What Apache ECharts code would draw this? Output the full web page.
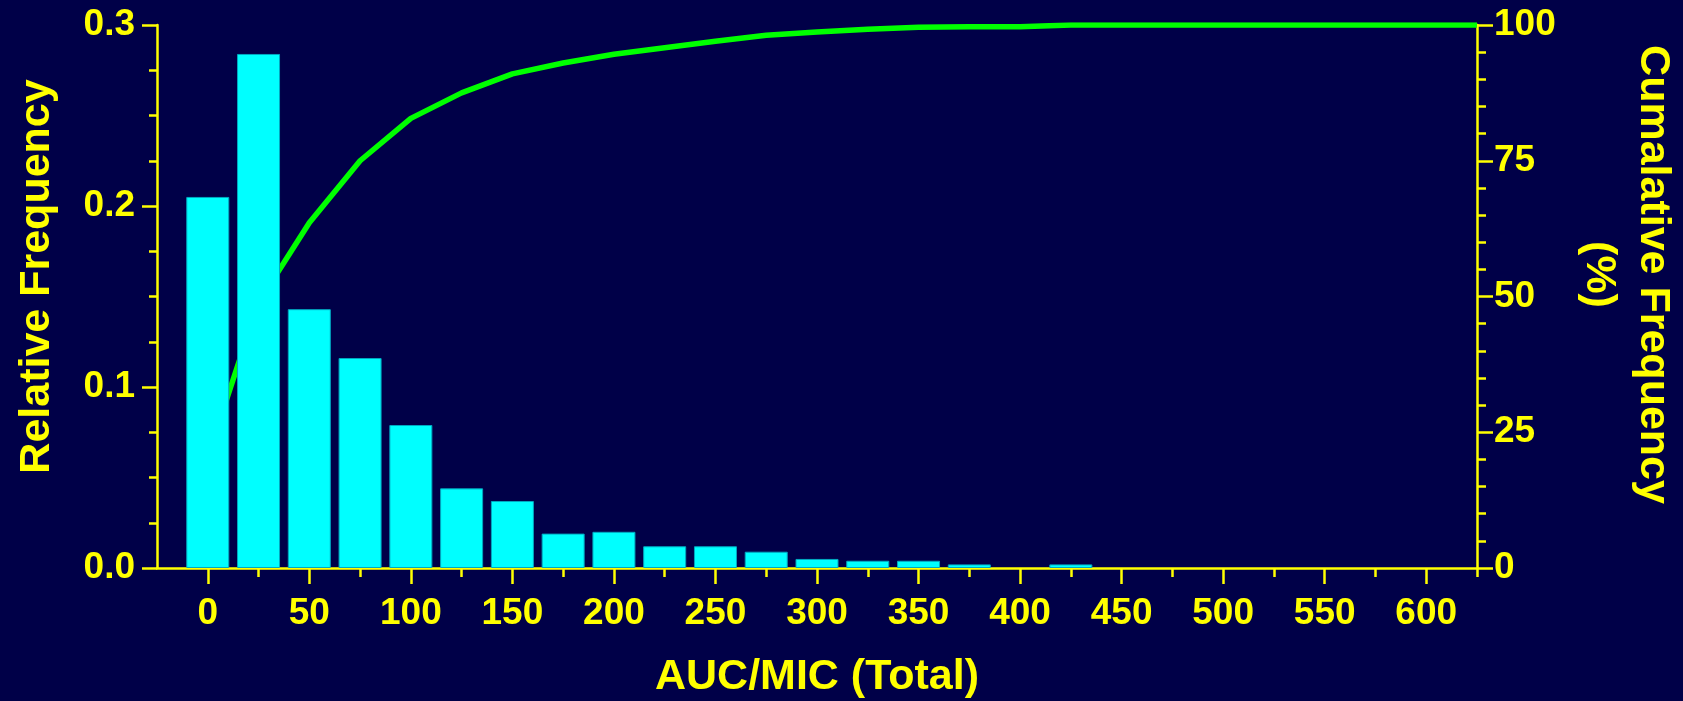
<!DOCTYPE html>
<html>
<head>
<meta charset="utf-8">
<script src="https://cdn.jsdelivr.net/npm/echarts@6/dist/echarts.min.js"></script>
<style>
  html, body { margin: 0; padding: 0; background: #000048; }
  #chart { width: 1683px; height: 701px; }
</style>
</head>
<body>
<div id="chart"></div>
<script>
// bin centres (AUC/MIC) and relative frequency of each bin
var binCenters = [0, 25, 50, 75, 100, 125, 150, 175, 200, 225, 250, 275, 300, 325, 350, 375, 400, 425];
var relFreq = [0.205, 0.284, 0.143, 0.116, 0.079, 0.044, 0.037, 0.019, 0.020, 0.012, 0.012, 0.009, 0.005, 0.004, 0.004, 0.002, 0, 0.002];

// cumulative frequency curve (%)
var cumX = [0, 25, 50, 75, 100, 125, 150, 175, 200, 225, 250, 275, 300, 325, 350, 375, 400, 425, 450, 475, 500, 525, 550, 575, 600, 625];
var cumPct = [20.5, 48.9, 63.6, 75.0, 82.8, 87.5, 91.0, 93.0, 94.6, 95.8, 97.0, 98.1, 98.7, 99.2, 99.6, 99.7, 99.7, 100, 100, 100, 100, 100, 100, 100, 100, 100];

// x-axis ticks
var xMajorTicks = [0, 50, 100, 150, 200, 250, 300, 350, 400, 450, 500, 550, 600];
var xMinorTicks = [25, 75, 125, 175, 225, 275, 325, 375, 425, 475, 525, 575, 625];

var yellow = '#ffff00';
var font = '"Liberation Sans", Arial, sans-serif';

var lineStyle = { color: yellow, width: 2.5 };
var labelStyle = { color: yellow, fontFamily: font, fontWeight: 'bold', fontSize: 37 };
var nameStyle = { color: yellow, fontFamily: font, fontWeight: 'bold', fontSize: 43 };

// empty bins are left out of the drawing
var barData = binCenters.map(function(x, i) { return [x, relFreq[i] || null]; });
var cumData = cumX.map(function(x, i) { return [x, cumPct[i]]; });

var chart = echarts.init(document.getElementById('chart'));
chart.setOption({
    backgroundColor: '#000048',
    animation: false,
    grid: { left: 157, right: 206, top: 25, bottom: 133, containLabel: false, outerBoundsMode: 'none' },
    xAxis: [{
        type: 'value',
        min: -25,
        max: 625,
        name: 'AUC/MIC (Total)',
        nameLocation: 'middle',
        nameGap: 88,
        nameTextStyle: nameStyle,
        axisLine: { show: true, onZero: false, lineStyle: lineStyle },
        axisTick: { show: true, length: 16, lineStyle: lineStyle, customValues: xMajorTicks },
        axisLabel: Object.assign({ margin: 27, customValues: xMajorTicks }, labelStyle),
        splitLine: { show: false }
    }, {
        type: 'value',
        min: -25,
        max: 625,
        position: 'bottom',
        axisLine: { show: false, onZero: false },
        axisTick: { show: true, length: 9, lineStyle: lineStyle, customValues: xMinorTicks },
        axisLabel: { show: false },
        splitLine: { show: false }
    }],
    yAxis: [{
        type: 'value',
        min: 0,
        max: 0.3,
        interval: 0.1,
        position: 'left',
        name: 'Relative Frequency',
        nameLocation: 'middle',
        nameRotate: 90,
        nameGap: 98,
        nameTextStyle: Object.assign({ padding: [0, 0, 0, 40] }, nameStyle),
        axisLine: { show: true, onZero: false, lineStyle: lineStyle },
        axisTick: { show: true, length: 15, lineStyle: lineStyle },
        minorTick: { show: true, splitNumber: 4, length: 8, lineStyle: lineStyle },
        axisLabel: Object.assign({ margin: 22, formatter: function(v) { return v.toFixed(1); } }, labelStyle),
        splitLine: { show: false }
    }, {
        type: 'value',
        min: 0,
        max: 100,
        interval: 25,
        position: 'right',
        name: 'Cumalative Frequency\n(%)',
        nameLocation: 'middle',
        nameRotate: -90,
        nameGap: 95,
        nameTextStyle: Object.assign({ lineHeight: 54, padding: [0, 44, 0, 0] }, nameStyle),
        axisLine: { show: true, onZero: false, lineStyle: lineStyle },
        axisTick: { show: true, length: 16, lineStyle: lineStyle },
        minorTick: { show: true, splitNumber: 5, length: 9, lineStyle: lineStyle },
        axisLabel: Object.assign({ margin: 17 }, labelStyle),
        splitLine: { show: false }
    }],
    series: [{
        name: 'Cumulative',
        type: 'line',
        xAxisIndex: 0,
        yAxisIndex: 1,
        data: cumData,
        z: 1,
        showSymbol: false,
        lineStyle: { color: '#00ff00', width: 5.5 }
    }, {
        name: 'Relative',
        type: 'bar',
        xAxisIndex: 0,
        yAxisIndex: 0,
        data: barData,
        barWidth: 43,
        z: 2,
        itemStyle: { color: '#00ffff', borderColor: '#00a8c0', borderWidth: 1 }
    }]
});
</script>
</body>
</html>
